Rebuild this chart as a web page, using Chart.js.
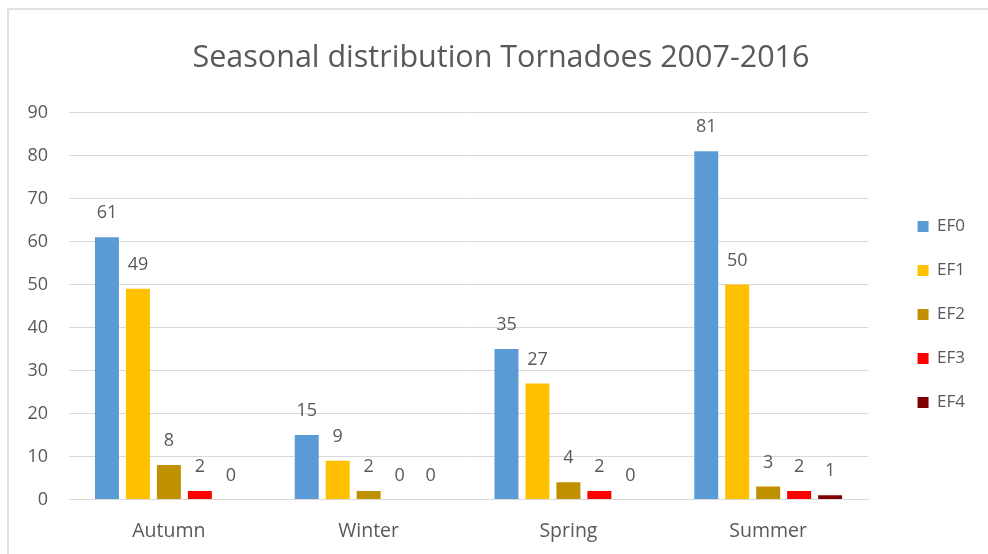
<!DOCTYPE html>
<html>
<head>
<meta charset="utf-8">
<script src="https://cdn.jsdelivr.net/npm/chart.js@4.4.1/dist/chart.umd.min.js"></script>
<style>
  html, body { margin: 0; padding: 0; background: #fff; }
  #caja { position: relative; width: 988px; height: 554px; overflow: hidden; }
  #marco { position: absolute; left: 7px; top: 8px; right: -4px; bottom: -4px;
           border-top: 2px solid #e1e1e1; border-left: 2px solid #e1e1e1; pointer-events: none; }
  canvas { position: absolute; left: 0; top: 0; }
</style>
</head>
<body>
<div id="caja">
  <canvas id="graficaTornados" width="988" height="554"></canvas>
  <div id="marco"></div>
</div>
<script>
const estaciones = ["Autumn", "Winter", "Spring", "Summer"];
const ef0 = [61, 15, 35, 81];
const ef1 = [49, 9, 27, 50];
const ef2 = [8, 2, 4, 3];
const ef3 = [2, 0, 2, 2];
const ef4 = [0, 0, 0, 1];
const categoriasEF = ["EF0", "EF1", "EF2", "EF3", "EF4"];
const coloresEF = ["#5b9bd5", "#ffc000", "#bf9000", "#ff0000", "#7f0000"];
const ticksY = [0, 10, 20, 30, 40, 50, 60, 70, 80, 90];

const gris = "#595959";
const fuente = "'Open Sans', sans-serif";

// etiquetas de valor encima de cada barra (incluye los ceros)
const etiquetasValor = {
    id: "etiquetasValor",
    afterDatasetsDraw(chart) {
        const ctx = chart.ctx;
        ctx.save();
        ctx.fillStyle = gris;
        ctx.font = "18px " + fuente;
        ctx.textAlign = "center";
        ctx.textBaseline = "middle";
        chart.data.datasets.forEach((ds, i) => {
            chart.getDatasetMeta(i).data.forEach((barra, j) => {
                ctx.fillText(String(ds.data[j]), barra.x, barra.y - 24);
            });
        });
        ctx.restore();
    }
};

function crearGrafica() {
    const ctx = document.getElementById("graficaTornados");
    if (!ctx) {
        console.warn("No se encontró el canvas");
        return;
    }

    const series = [ef0, ef1, ef2, ef3, ef4];

    new Chart(ctx, {
        type: "bar",
        data: {
            labels: estaciones,
            datasets: series.map((valores, i) => ({
                label: categoriasEF[i],
                data: valores,
                backgroundColor: coloresEF[i],
                borderWidth: 0,
                categoryPercentage: 0.775,
                barPercentage: 0.774
            }))
        },
        options: {
            responsive: false,
            animation: false,
            layout: { padding: { left: 27, right: 13, top: 0, bottom: 0 } },
            scales: {
                x: {
                    grid: { display: false, drawTicks: false },
                    border: { display: true, color: "#d9d9d9", width: 1 },
                    ticks: { color: gris, font: { family: fuente, size: 19.5 }, padding: 20 },
                    afterFit(escala) { escala.height = 54.5; }
                },
                y: {
                    min: 0,
                    max: 90,
                    afterBuildTicks(escala) {
                        escala.ticks = ticksY.map(v => ({ value: v }));
                    },
                    grid: { color: "#d9d9d9", drawTicks: false },
                    border: { display: false },
                    ticks: { color: gris, font: { family: fuente, size: 18 }, padding: 21 },
                    afterFit(escala) { escala.width = 42; }
                },
                hueco: {
                    position: "right",
                    display: true,
                    grid: { display: false },
                    border: { display: false },
                    ticks: { display: false },
                    afterFit(escala) { escala.width = 22.5; }
                }
            },
            plugins: {
                title: {
                    display: true,
                    text: "Seasonal distribution Tornadoes 2007-2016",
                    color: gris,
                    font: { family: fuente, size: 30.5, weight: "normal" },
                    padding: { top: 40.5, bottom: 35.5 }
                },
                legend: {
                    position: "right",
                    fullSize: false,
                    title: { display: true, text: "", font: { size: 10 }, padding: 2.5 },
                    labels: {
                        color: gris,
                        font: { family: fuente, size: 17 },
                        boxWidth: 11,
                        boxHeight: 11,
                        padding: 27
                    }
                },
                tooltip: { enabled: false }
            }
        },
        plugins: [etiquetasValor]
    });
}

document.addEventListener("DOMContentLoaded", () => {
    crearGrafica();
});
</script>
</body>
</html>
